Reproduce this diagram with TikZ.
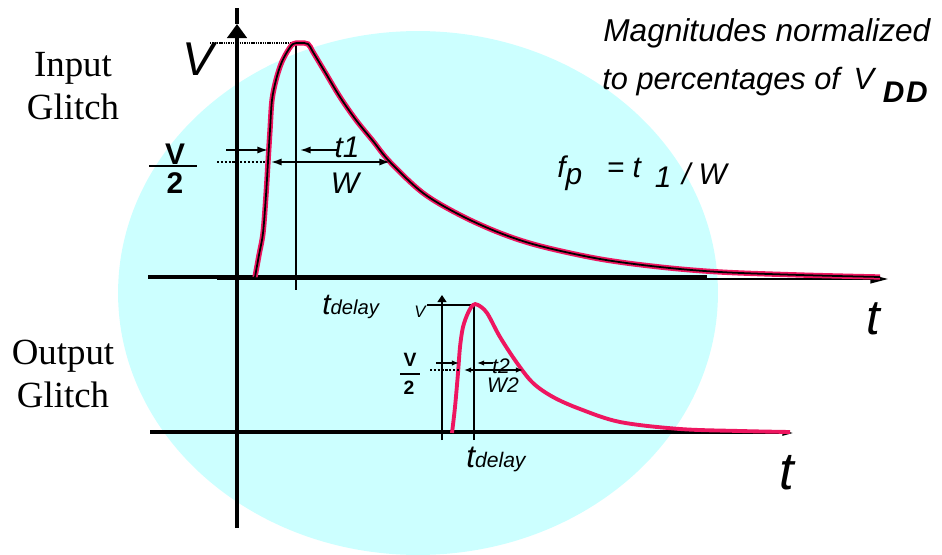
\documentclass[tikz,border=0pt]{standalone}
\usepackage{fontspec}
\setmainfont{Liberation Serif}
\setsansfont{Liberation Sans}
\usetikzlibrary{arrows.meta, positioning}
\definecolor{cglow}{HTML}{CCFFFF}
\definecolor{cpulse}{HTML}{EE1660}
\newcommand{\fs}[1]{\fontsize{#1}{#1}\selectfont}
\tikzset{
  every picture/.style={font=\sffamily},
  every node/.style={inner sep=0pt},
  axis/.style={line width=2.4pt},
  thinaxis/.style={line width=0.8pt},
  pulse/.style={draw=cpulse, line width=2.2pt, smooth, tension=0.55},
  guide/.style={line width=0.6pt},
  vdots/.style={line width=1.1pt, dash pattern=on 0.8pt off 0.5pt},
  hdots/.style={line width=0.6pt, dash pattern=on 1.2pt off 1pt},
  dim/.style={-{Latex[length=6pt, width=4pt]}, line width=0.9pt},
  dimsmall/.style={-{Latex[length=4pt, width=3pt]}, line width=0.7pt},
  glabel/.style={font=\rmfamily\fontsize{21}{24.4}\selectfont, align=center},
  lbl/.style={font=\sffamily\itshape, anchor=base},
}

\begin{document}
\begin{tikzpicture}[x=0.02cm, y=-0.02cm]
  \useasboundingbox (0,0) rectangle (942,554);
  % background glow
  \fill[cglow] (418,293) ellipse [x radius=6cm, y radius=5.24cm];

  % axes
  \draw[axis, -{Triangle[length=8pt, width=11pt]}] (237,528) -- (237,24) coordinate (ytop);
  \draw[axis] (ytop) -- (237,8);
  \draw[axis] (148,277) -- (707,277);
  \draw[thinaxis, -{Triangle[length=10pt, width=5pt]}] (217,279) -- (888,279) coordinate (xend1);
  \draw[axis] (150,432) -- (710,432);
  \draw[thinaxis, -{Triangle[length=6pt, width=3pt]}] (393,433) -- (793,433) coordinate (xend2);
  \draw[line width=1.6pt, -{Triangle[length=4pt, width=5pt]}] (442,440) -- (442,295);
  \draw[line width=1.6pt] (474,440) -- (474,305);

  % input glitch
  \draw[guide] (296,43) -- (296,290);
  \draw[vdots] (210,43) -- (293,43);
  \draw[pulse, line width=3pt] plot coordinates {(255,277) (259,255) (263,233) (266,195) (268,162) (270,130) (272,100) (276,80) (281,64) (287,52) (293,44) (300,43) (308,44) (313,52) (325,72) (340,97) (356,120) (373,141) (390,162) (423,193) (460,215) (500,233) (540,246) (600,259) (660,267) (720,272) (800,275) (880,277)};
  \draw[line width=1pt, smooth, tension=0.55] plot coordinates {(255,277) (259,255) (263,233) (266,195) (268,162) (270,130) (272,100) (276,80) (281,64) (287,52) (293,44) (300,43) (308,44) (313,52) (325,72) (340,97) (356,120) (373,141) (390,162) (423,193) (460,215) (500,233) (540,246) (600,259) (660,267) (720,272) (800,275) (880,277)};
  \draw[hdots] (217,162) -- (267,162);
  \draw[dim] (226,150) -- (268,150);
  \draw[dim] (337,150) -- (300,150);
  \draw[dim, {Latex[length=6pt, width=4pt]}-{Latex[length=6pt, width=4pt]}] (271,162) -- (390,162);

  % output glitch
  \draw[guide] (427,305) -- (475,305);
  \draw[pulse] plot coordinates {(452,433) (455,407) (458,373) (460,347) (463,327) (468,313) (473,305) (478,305) (487,313) (500,337) (517,363) (533,383) (553,397) (580,409) (620,422) (680,429) (740,431) (790,432)};
  \draw[hdots] (430,370) -- (460,370);
  \draw[dimsmall] (436,363) -- (459,363);
  \draw[dimsmall] (493,363) -- (477,363);
  \draw[dimsmall, {Latex[length=4pt, width=3pt]}-{Latex[length=4pt, width=3pt]}] (464,370) -- (523,370);

  % fraction bars
  \draw[line width=0.8pt] (149,166) -- (197,166);
  \draw[line width=0.7pt] (400,374) -- (420,374);

  % labels
  \node[glabel] (inlbl) at (73,86) {Input\\Glitch};
  \node[glabel] (outlbl) at (63,374) {Output\\Glitch};
  \node[lbl, font=\sffamily\itshape\fs{27}] (vtop) at (198,75) {V};
  \node[lbl, font=\sffamily\bfseries\fs{17}] (halfv) at (175,164) {V};
  \node[lbl, font=\sffamily\bfseries\fs{17}] (halftwo) at (175,193) {2};
  \node[lbl, font=\sffamily\itshape\fs{17}] (tone) at (347,157) {t1};
  \node[lbl, font=\sffamily\itshape\fs{17}] (wone) at (345,193) {W};
  \node[lbl, anchor=base west] (tdel1) at (322,314) {\itshape\fs{17}t\fs{11.5}delay};
  \node[lbl, font=\sffamily\itshape\fs{28}] (taxis1) at (873,334) {t};

  \node[lbl, font=\sffamily\itshape\fs{9.5}] (vbot) at (420,317) {V};
  \node[lbl, font=\sffamily\bfseries\fs{11}] (halfv2) at (410,366) {V};
  \node[lbl, font=\sffamily\bfseries\fs{11}] (halftwo2) at (409,394) {2};
  \node[lbl, font=\sffamily\itshape\fs{12}] (ttwo) at (501,373) {t2};
  \node[lbl, font=\sffamily\itshape\fs{12}] (wtwo) at (503,392) {W2};
  \node[lbl, anchor=base west] (tdel2) at (466,467) {\itshape\fs{18}t\fs{12}delay};
  \node[lbl, font=\sffamily\itshape\fs{30}] (taxis2) at (787,489) {t};

  % notes
  \node[lbl, anchor=base west, font=\sffamily\itshape\fs{18}] (note1) at (603,42) {Magnitudes normalized};
  \node[lbl, anchor=base west, font=\sffamily\itshape\fs{17.5}] (note2) at (602,90) {to percentages of \,V\hspace{5pt}\raisebox{-7pt}{\bfseries\fs{17}D\hspace{1pt}D}};
  \node[lbl, anchor=base west, font=\sffamily\itshape\fs{17}] (ratio) at (557,177) {f\raisebox{-4pt}{p}\hspace{14pt}= t\hspace{8pt}\raisebox{-6pt}{1}\hspace{6pt}\raisebox{-4pt}{/ W}};
\end{tikzpicture}
\end{document}
